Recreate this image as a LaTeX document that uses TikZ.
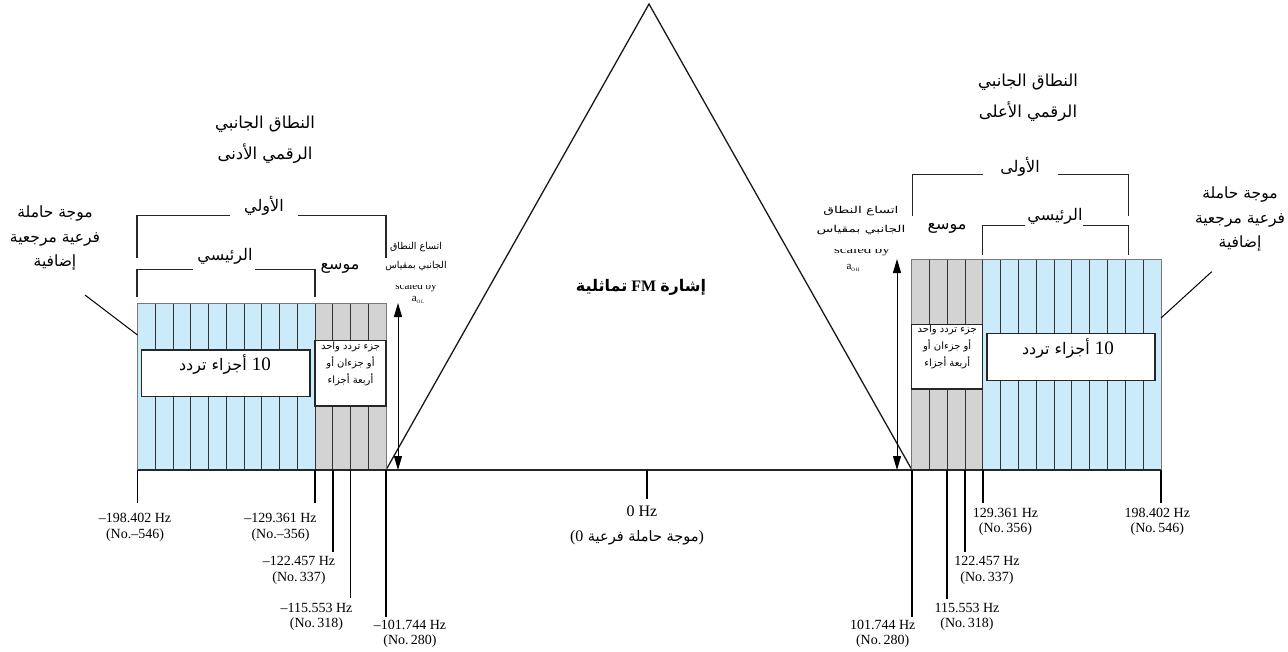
\documentclass[tikz,border=0pt]{standalone}
\usepackage{fontspec}
\setmainfont{Liberation Serif}
\newfontfamily\ar[Script=Arabic]{DejaVu Sans}
\TeXXeTstate=1
\usetikzlibrary{arrows.meta}
\newcommand\myR[1]{\beginR#1\endR}
\newcommand\aw[1]{\mbox{\ar#1}}
\definecolor{bandblue}{RGB}{204,235,250}
\definecolor{bandgray}{RGB}{211,211,211}
\definecolor{edgegray}{RGB}{120,120,120}
\tikzset{
  arbig/.style={font=\ar\fontsize{16.5}{31}\selectfont, align=center, inner sep=0pt},
  armid/.style={font=\ar\fontsize{15.5}{24.5}\selectfont, align=center, inner sep=0pt},
  arbr/.style={font=\ar\fontsize{16}{18}\selectfont, inner sep=0pt},
  arsmall/.style={font=\ar\fontsize{9.5}{19}\selectfont, align=center, inner sep=0pt},
  ensmall/.style={font=\fontsize{11}{12}\selectfont, inner sep=0pt},
  arbox/.style={font=\ar\fontsize{10}{17}\selectfont, align=center, inner sep=0pt},
  arten/.style={font=\ar\fontsize{16}{18}\selectfont, inner sep=0pt},
  hz/.style={font=\fontsize{14}{15.5}\selectfont, align=center, inner sep=0pt},
  brk/.style={line width=1.2pt, black!85},
  col/.style={line width=0.8pt, black!80},
  bandedge/.style={line width=0.8pt, edgegray},
  wbox/.style={draw=black!85, line width=1.2pt, fill=white},
  tick/.style={line width=1.6pt, black},
  dim/.style={line width=1pt, {Triangle[length=14pt,width=8pt]}-{Triangle[length=14pt,width=8pt]}},
}
\begin{document}
\begin{tikzpicture}[x=1pt,y=-1pt]
\useasboundingbox (0,0) rectangle (1288,651);

% ---------- triangle ----------
\coordinate (apex) at (649,4);
\coordinate (tl) at (386,470);
\coordinate (tr) at (912,470);
\draw[line width=1.3pt, black!90] (tl) -- (apex) -- (tr);
% visual order, left to right (reads right to left)
\node[font=\fontsize{16}{18}\selectfont, inner sep=0pt] (fm) at (641,287)
  {\mbox{\ar\bfseries تماثلية}\ \mbox{\bfseries FM}\ \mbox{\ar\bfseries إشارة}};

% ---------- side width labels (drawn first, partly covered) ----------
\node[ensmall] (scL) at (416,287) {scaled by};
\fill[white] (392,276) rectangle (442,285);
\node[arsmall] (wL) at (416,257) {\myR{اتساع النطاق}\\\myR{الجانبي بمقياس}};
\node[ensmall] (aL) at (418,300) {a\raisebox{-2pt}{\fontsize{5}{5}\selectfont O\,L}};

\node[ensmall, xscale=1.35] (scR) at (862,251) {scaled by};
\fill[white] (825,240) rectangle (900,249);
\node[arsmall, xscale=1.45] (wR) at (861,221) {\myR{اتساع النطاق}\\\myR{الجانبي بمقياس}};
\node[ensmall] (aR) at (853,268) {a\raisebox{-2pt}{\fontsize{5}{5}\selectfont O\,H}};

% ---------- left bands ----------
\fill[bandblue] (137.5,303) rectangle (315,470);
\fill[bandgray] (315,303) rectangle (386,470);
\foreach \i in {1,...,13} \draw[col] ({137.5+\i*17.75},303) -- ({137.5+\i*17.75},470);
\draw[bandedge] (137.5,303) rectangle (386,470);

% ---------- right bands ----------
\fill[bandgray] (911.7,259) rectangle (982.7,470);
\fill[bandblue] (982.7,259) rectangle (1161,470);
\foreach \i in {1,...,4} \draw[col] ({911.7+\i*17.75},259) -- ({911.7+\i*17.75},470);
\foreach \i in {1,...,9} \draw[col] ({982.7+\i*17.83},259) -- ({982.7+\i*17.83},470);
\draw[bandedge] (911.7,259) rectangle (1161,470);

% ---------- boxes in bands ----------
\draw[wbox] (141.7,350) rectangle (310,396.7);
\node[arten] (tenL) at (225,364) {\aw{تردد}\ \aw{أجزاء}\ \mbox{\rmfamily\fontsize{19}{20}\selectfont 10}};
\draw[wbox] (315,340.7) rectangle (386,406);
\node[arbox] (oneL) at (350.5,364) {\myR{جزء تردد واحد}\\\myR{أو جزءان أو}\\\myR{أربعة أجزاء}};

\draw[wbox] (987,333.3) rectangle (1155,380.7);
\node[arten] (tenR) at (1068,348) {\aw{تردد}\ \aw{أجزاء}\ \mbox{\rmfamily\fontsize{19}{20}\selectfont 10}};
\draw[wbox] (911.7,324.3) rectangle (982.7,389);
\node[arbox] (oneR) at (947.2,347) {\myR{جزء تردد واحد}\\\myR{أو جزءان أو}\\\myR{أربعة أجزاء}};

% ---------- base line ----------
\draw[line width=1.6pt, black!85] (137.5,470) -- (1161,470);

% ---------- dimension arrows ----------
\draw[dim] (398,303) -- (398,470);
\draw[dim] (897,259) -- (897,470);

% ---------- left brackets ----------
\node[arbr] (olL) at (264,206) {\myR{الأولي}};
\draw[brk] (137,258) -- (137,215.7) -- (230,215.7);
\draw[brk] (298,215.7) -- (386,215.7) -- (386,258);
\node[arbr] (raL) at (225,256) {\myR{الرئيسي}};
\draw[brk] (137,297) -- (137,269.3) -- (193,269.3);
\draw[brk] (255,269.3) -- (315,269.3) -- (315,297);
\node[arbr] (mwL) at (340,268) {\myR{موسع}};
\node[arbig] (titL) at (265,140) {\myR{النطاق الجانبي}\\\myR{الرقمي الأدنى}};
\node[armid] (refL) at (55,238) {\myR{موجة حاملة}\\\myR{فرعية مرجعية}\\\myR{إضافية}};
\coordinate (refLend) at (85,295);
\draw[line width=1pt] (refLend) -- (137.5,335);

% ---------- right brackets ----------
\node[arbr] (olR) at (1020,167) {\myR{الأولى}};
\draw[brk] (912.3,216) -- (912.3,174.3) -- (983,174.3);
\draw[brk] (1058,174.3) -- (1128.3,174.3) -- (1128.3,216);
\node[arbr] (raR) at (1055,216) {\myR{الرئيسي}};
\draw[brk] (982.7,255) -- (982.7,225.7) -- (1025,225.7);
\draw[brk] (1083,225.7) -- (1128.3,225.7) -- (1128.3,255);
\node[arbr] (mwR) at (947,228) {\myR{موسع}};
\node[arbig] (titR) at (1028,98) {\myR{النطاق الجانبي}\\\myR{الرقمي الأعلى}};
\node[armid] (refR) at (1240,219) {\myR{موجة حاملة}\\\myR{فرعية مرجعية}\\\myR{إضافية}};
\coordinate (refRend) at (1211.7,271.7);
\draw[line width=1pt] (refRend) -- (1161,318);

% ---------- ticks ----------
\draw[tick] (137.5,470) -- (137.5,503);
\draw[tick] (315,470) -- (315,503);
\draw[tick] (332.75,470) -- (332.75,552);
\draw[tick] (350.5,470) -- (350.5,598);
\draw[tick] (386,470) -- (386,617);
\draw[tick] (647,470) -- (647,499);
\draw[tick] (911.7,470) -- (911.7,617);
\draw[tick] (947.2,470) -- (947.2,599);
\draw[tick] (965,470) -- (965,552);
\draw[tick] (982.7,470) -- (982.7,503);
\draw[tick] (1161,470) -- (1161,503);

% ---------- frequency labels ----------
\node[hz] (f1) at (135,527.5) {–198.402 Hz\\(No.–546)};
\node[hz] (f2) at (280.5,527.5) {–129.361 Hz\\(No.–356)};
\node[hz] (f3) at (299,570.5) {–122.457 Hz\\(No.\,337)};
\node[hz] (f4) at (316.5,617) {–115.553 Hz\\(No.\,318)};
\node[hz] (f5) at (410,634) {–101.744 Hz\\(No.\,280)};
\node[hz] (f6) at (882.7,634) {101.744 Hz\\(No.\,280)};
\node[hz] (f7) at (967,617) {115.553 Hz\\(No.\,318)};
\node[hz] (f8) at (987,570.5) {122.457 Hz\\(No.\,337)};
\node[hz] (f9) at (1005.5,522) {129.361 Hz\\(No.\,356)};
\node[hz] (f10) at (1157.3,522) {198.402 Hz\\(No.\,546)};

\node[font=\fontsize{16}{18}\selectfont, inner sep=0pt] (zero) at (642,511) {0 Hz};
% visual order, left to right (reads right to left)
\node[font=\ar\fontsize{14.5}{16}\selectfont, inner sep=0pt] (zeroar) at (637,538)
  {\mbox{\rmfamily\fontsize{16}{18}\selectfont(0}\ \aw{فرعية}\ \aw{حاملة}\ \aw{موجة}\mbox{\rmfamily\fontsize{16}{18}\selectfont)}};
\end{tikzpicture}
\end{document}
